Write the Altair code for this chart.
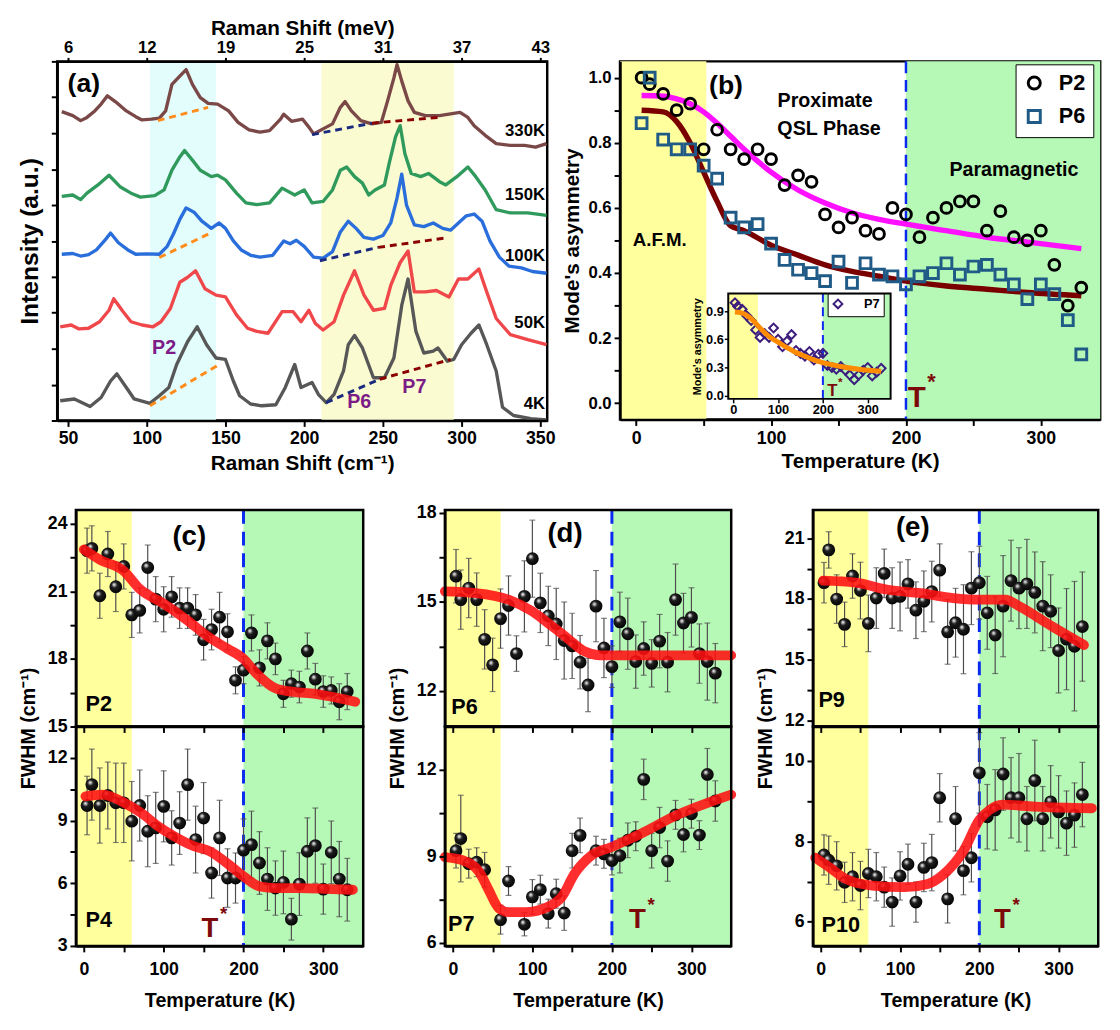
import altair as alt
import pandas as pd

FONT = "Liberation Sans"
YELLOW = "#ffff9e"
GREEN = "#b6f8b6"
DASH_BLUE = "#0a2af0"
TSTAR_RED = "#7d0a0a"

# ======================= (a) Raman spectra =======================
spec_temps = ["330K", "150K", "100K", "50K", "4K"]
spec_colors = ["#7b4848", "#2f9a5c", "#2a6edb", "#f0474a", "#575757"]

x_330 = [46, 53, 58, 62, 67, 71, 75, 80, 87, 93, 97, 103, 108, 112, 116, 121, 125, 129, 134, 139,
         145, 152, 158, 165, 172, 178, 185, 187, 192, 199, 203, 206, 212, 218, 223, 226, 230, 236, 243, 249,
         253, 257, 259, 262, 266, 270, 277, 286, 292, 299, 304, 308, 315, 322, 331, 340, 347, 354]
y_330 = [8.60, 8.49, 8.35, 8.44, 8.62, 8.81, 9.04, 8.88, 8.62, 8.46, 8.37, 8.39, 8.42, 8.62, 9.36, 9.59, 9.77, 9.36, 8.99, 8.83,
         8.81, 8.62, 8.30, 8.09, 8.03, 8.07, 8.39, 8.53, 8.33, 8.39, 8.17, 7.98, 8.12, 8.26, 8.72, 8.88, 8.62, 8.35, 8.26, 8.30,
         8.90, 9.54, 9.91, 9.45, 8.90, 8.58, 8.49, 8.49, 8.53, 8.58, 8.44, 8.21, 7.94, 7.71, 7.66, 7.66, 7.61, 7.71]

x_150 = [46, 53, 58, 62, 69, 76, 83, 90, 96, 105, 111, 116, 121, 124, 129, 134, 141, 145, 150, 157,
         163, 170, 178, 186, 194, 200, 205, 212, 218, 223, 227, 232, 237, 241, 245, 251, 254, 258, 261, 264,
         268, 274, 279, 286, 290, 297, 304, 309, 315, 322, 331, 342, 354]
y_150 = [6.24, 6.28, 6.15, 6.33, 6.56, 6.83, 6.51, 6.33, 6.22, 6.26, 6.42, 6.97, 7.34, 7.52, 7.25, 6.97, 6.79, 6.83, 6.70, 6.33,
         6.06, 6.01, 6.06, 6.47, 6.28, 6.42, 6.06, 6.10, 6.42, 6.97, 7.06, 6.79, 6.61, 6.28, 6.42, 6.56, 7.16, 7.89, 8.21, 7.43,
         6.88, 6.79, 6.88, 6.65, 6.56, 6.79, 7.06, 6.79, 6.42, 5.87, 5.78, 5.78, 5.71]

x_100 = [46, 53, 58, 63, 68, 74, 77, 82, 88, 93, 100, 108, 113, 117, 121, 125, 130, 135, 141, 146,
         150, 155, 160, 166, 172, 180, 187, 191, 195, 200, 206, 212, 218, 223, 228, 233, 238, 244, 250, 255,
         259, 262, 265, 270, 276, 282, 288, 293, 298, 303, 308, 313, 318, 324, 330, 338, 345, 354]
y_100 = [4.63, 4.65, 4.58, 4.62, 4.75, 5.05, 5.22, 4.95, 4.75, 4.63, 4.64, 4.63, 4.85, 5.20, 5.60, 5.92, 5.80, 5.55, 5.35, 5.50,
         5.35, 5.00, 4.75, 4.60, 4.55, 4.60, 5.00, 4.92, 5.02, 4.85, 4.55, 4.52, 4.70, 5.25, 5.55, 5.35, 5.10, 5.05, 5.15, 5.50,
         6.20, 6.86, 6.00, 5.45, 5.40, 5.50, 5.35, 5.30, 5.50, 5.70, 5.75, 5.55, 5.00, 4.55, 4.30, 4.25, 4.15, 4.10]

x_50 = [45, 52, 57, 63, 70, 76, 79, 85, 90, 97, 104, 109, 115, 121, 126, 131, 137, 144, 150, 157,
        164, 170, 177, 186, 193, 198, 203, 207, 212, 219, 225, 232, 238, 244, 251, 255, 261, 266, 270, 277,
        284, 292, 298, 304, 311, 316, 322, 331, 342, 354]
y_50 = [2.61, 2.66, 2.55, 2.57, 2.75, 3.07, 3.39, 3.03, 2.75, 2.66, 2.61, 2.75, 3.12, 3.85, 3.99, 4.17, 3.67, 3.49, 3.44, 2.94,
        2.57, 2.48, 2.43, 3.03, 3.03, 2.75, 3.07, 2.71, 2.52, 2.75, 3.49, 4.17, 3.49, 3.07, 3.12, 3.76, 4.40, 4.72, 3.58, 3.58,
        3.62, 3.44, 3.94, 3.94, 4.22, 3.58, 2.84, 2.39, 2.25, 2.11]

x_4 = [45, 54, 64, 71, 77, 81, 87, 92, 102, 108, 114, 119, 126, 132, 138, 144, 150, 155, 159, 166,
       173, 182, 188, 194, 198, 205, 209, 214, 219, 225, 228, 232, 237, 244, 251, 257, 262, 266, 271, 276,
       282, 285, 291, 295, 300, 306, 311, 316, 322, 326, 333, 344, 354]
y_4 = [0.55, 0.60, 0.39, 0.64, 1.10, 1.30, 0.92, 0.60, 0.48, 0.69, 0.92, 1.56, 2.20, 2.61, 2.11, 1.74, 1.70, 1.10, 0.69, 0.46,
       0.41, 0.44, 0.92, 1.56, 0.92, 1.06, 0.73, 0.50, 0.73, 1.38, 2.11, 2.37, 2.02, 1.19, 1.19, 1.74, 3.21, 3.94, 2.48, 1.88,
       1.93, 2.02, 1.65, 1.70, 2.11, 2.43, 2.66, 2.11, 1.38, 0.37, 0.14, 0.05, 0.02]

spec_x = [x_330, x_150, x_100, x_50, x_4]
spec_y = [y_330, y_150, y_100, y_50, y_4]

base_x0 = [102, 214, 248, 108, 210, 247, 107, 205, 243]
base_y0 = [0.41, 0.50, 1.15, 4.54, 4.45, 4.82, 8.35, 7.96, 8.28]
base_x1 = [146, 248, 293, 141, 247, 291, 139, 243, 286]
base_y1 = [1.56, 1.15, 1.70, 5.23, 4.82, 5.09, 8.72, 8.28, 8.44]
base_col = ["#ff8c1a", "#1a2a80", "#8b0000"] * 3

band_a_x0 = [102, 211]
band_a_x1 = [144, 295]
band_a_col = ["#e3fcfc", "#fafbd0"]

temp_lab_y = [8.07, 6.28, 4.59, 2.71, 0.46]
peak_lab = ["P2", "P6", "P7"]
peak_x = [111, 235, 270]
peak_y = [2.02, 0.50, 0.92]

# ======================= (b) Mode's asymmetry =======================
bT = [4, 10, 20, 30, 40, 50, 60, 70, 80, 90, 100, 110, 120, 130, 140, 150, 160, 170, 180, 190,
      200, 210, 220, 230, 240, 250, 260, 270, 280, 290, 300, 310, 320, 330]
asym_p2 = [1.00, 0.98, 0.95, 0.90, 0.92, 0.78, 0.84, 0.78, 0.75, 0.78, 0.75, 0.67, 0.70, 0.68, 0.58, 0.54, 0.57, 0.53, 0.52, 0.60,
           0.58, 0.51, 0.57, 0.60, 0.62, 0.62, 0.53, 0.59, 0.51, 0.50, 0.53, 0.425, 0.30, 0.355]
asym_p6 = [0.86, 1.00, 0.81, 0.78, 0.78, 0.73, 0.69, 0.57, 0.54, 0.55, 0.49, 0.44, 0.41, 0.40, 0.375, 0.435, 0.37, 0.43, 0.395, 0.39,
           0.365, 0.39, 0.40, 0.43, 0.395, 0.42, 0.425, 0.395, 0.365, 0.32, 0.365, 0.335, 0.255, 0.15]
fit_bT = [4, 20, 30, 40, 50, 60, 70, 80, 100, 120, 140, 160, 180, 200, 230, 260, 290, 330]
fit_p2 = [0.945, 0.943, 0.935, 0.92, 0.895, 0.86, 0.82, 0.78, 0.71, 0.655, 0.615, 0.585, 0.565, 0.55, 0.53, 0.51, 0.495, 0.475]
fit_p6 = [0.90, 0.895, 0.865, 0.80, 0.71, 0.62, 0.545, 0.53, 0.485, 0.455, 0.425, 0.405, 0.39, 0.375, 0.36, 0.35, 0.34, 0.33]

asym_p7 = [0.99, 0.95, 0.92, 0.85, 0.80, 0.70, 0.62, 0.66, 0.62, 0.72, 0.60, 0.52, 0.58, 0.65, 0.48, 0.45, 0.42, 0.47, 0.38, 0.44,
           0.45, 0.32, 0.30, 0.28, 0.31, 0.27, 0.22, 0.17, 0.22, 0.27, 0.30, 0.21, 0.25, 0.29]
fit_p7T = [4, 20, 40, 60, 80, 100, 120, 140, 160, 180, 200, 240, 280, 330]
fit_p7 = [0.89, 0.88, 0.82, 0.72, 0.63, 0.57, 0.51, 0.46, 0.42, 0.38, 0.35, 0.31, 0.28, 0.26]

# ======================= (c)(d)(e) FWHM =======================
fT = [4, 10, 20, 30, 40, 50, 60, 70, 80, 90, 100, 110, 120, 130, 140, 150, 160, 170, 180, 190,
      200, 210, 220, 230, 240, 250, 260, 270, 280, 290, 300, 310, 320, 330]
p2w = [22.8, 22.9, 20.8, 22.65, 21.2, 22.1, 19.95, 20.15, 22.05, 20.65, 20.2, 20.75, 20.25, 20.25, 19.95, 18.85, 19.3, 19.85, 19.2, 17.05,
       17.5, 19.15, 17.6, 18.8, 18.0, 16.45, 16.9, 16.75, 18.35, 17.1, 16.55, 16.6, 16.1, 16.55]
p2e = [1.0, 1.0, 1.0, 1.0, 1.1, 1.0, 1.0, 1.0, 1.0, 1.0, 1.0, 0.9, 0.9, 0.9, 0.9, 0.9, 0.9, 1.1, 0.8, 0.6,
       0.6, 0.8, 0.8, 0.8, 0.7, 0.6, 0.6, 0.7, 0.8, 0.7, 0.7, 0.6, 0.8, 0.8]
p4w = [9.72, 10.72, 9.72, 10.2, 9.85, 9.85, 8.97, 9.72, 8.49, 8.65, 9.68, 8.17, 8.88, 10.72, 8.09, 9.12, 6.49, 8.17, 6.25, 6.25,
       7.58, 7.85, 6.97, 6.2, 5.77, 6.04, 4.28, 5.96, 7.53, 7.8, 5.72, 7.48, 6.2, 5.69]
p4e = [1.4, 1.7, 1.8, 1.6, 1.9, 1.9, 1.9, 1.7, 1.7, 1.7, 1.7, 1.3, 1.5, 1.7, 1.6, 1.7, 1.2, 1.8, 1.4, 1.2,
       1.5, 1.6, 1.5, 1.5, 1.3, 1.5, 1.0, 1.5, 1.6, 1.8, 1.2, 1.5, 1.8, 1.5]
p6w = [15.87, 15.08, 15.47, 15.08, 13.74, 12.88, 14.44, 14.88, 13.26, 15.19, 16.46, 14.97, 14.53, 14.26, 13.7, 13.52, 12.97, 12.2, 14.86, 13.45,
       12.82, 14.33, 13.93, 12.99, 13.43, 12.93, 13.68, 12.97, 15.08, 14.29, 14.48, 13.26, 12.99, 12.6]
p6e = [0.9, 1.0, 1.0, 0.9, 1.0, 0.9, 1.0, 1.0, 0.6, 1.2, 1.3, 1.0, 1.0, 1.2, 1.3, 1.1, 0.9, 0.9, 1.2, 1.0,
       0.7, 1.0, 1.2, 0.9, 0.9, 0.8, 0.9, 1.0, 1.2, 1.0, 1.0, 1.0, 1.3, 1.0]
p7T = [4, 10, 20, 30, 40, 60, 70, 90, 100, 110, 120, 130, 140, 150, 160, 180, 190, 200, 210, 220,
       230, 240, 250, 260, 270, 280, 290, 300, 310, 320, 330]
p7w = [9.2, 9.62, 8.75, 8.8, 8.54, 6.81, 8.15, 6.65, 7.6, 7.85, 7.02, 7.71, 7.04, 9.2, 9.73, 9.2, 9.09, 8.86, 9.03, 9.56,
       9.7, 11.67, 9.2, 10.0, 8.84, 10.44, 9.76, 10.48, 9.74, 11.84, 10.92]
p7e = [0.6, 1.5, 0.5, 0.5, 0.6, 0.5, 0.5, 0.4, 0.6, 0.5, 0.5, 0.5, 0.6, 0.6, 0.6, 0.5, 0.5, 0.5, 0.6, 0.6,
       0.5, 0.7, 0.6, 0.7, 0.7, 0.5, 0.6, 0.5, 0.5, 0.9, 0.7]
p9w = [18.81, 20.43, 18.0, 16.75, 19.14, 18.42, 16.8, 18.05, 19.27, 18.05, 18.13, 18.75, 17.45, 17.89, 18.37, 19.43, 16.38, 16.83, 16.51, 18.54,
       18.81, 17.32, 16.22, 17.65, 18.91, 18.54, 18.75, 18.33, 17.65, 17.4, 15.46, 16.02, 15.67, 16.64]
p9e = [1.0, 0.9, 1.2, 1.1, 1.1, 1.4, 1.4, 1.5, 1.2, 1.5, 1.7, 1.2, 1.4, 1.5, 1.5, 1.3, 1.6, 1.7, 2.2, 1.8,
       1.8, 1.8, 1.9, 2.5, 2.0, 2.0, 2.2, 2.0, 2.2, 1.8, 2.1, 2.5, 3.2, 2.7]
p10w = [7.66, 7.53, 7.39, 6.98, 7.12, 6.9, 7.2, 7.12, 6.86, 6.49, 7.14, 7.43, 6.49, 7.35, 7.47, 9.08, 6.57, 8.56, 7.27, 7.59,
        9.7, 8.61, 8.78, 9.67, 9.08, 9.08, 8.56, 9.51, 8.56, 8.98, 8.73, 8.45, 8.65, 9.16]
p10e = [0.5, 0.6, 0.6, 0.5, 0.6, 0.6, 0.6, 0.6, 0.5, 0.6, 0.6, 0.5, 0.5, 0.6, 0.7, 0.6, 0.6, 0.8, 0.6, 0.6,
        1.0, 0.8, 1.0, 0.9, 1.0, 1.1, 0.8, 1.0, 0.8, 0.9, 0.9, 0.8, 0.8, 0.8]

fit2T = [0, 20, 50, 70, 100, 130, 155, 180, 200, 215, 240, 260, 290, 340]
fit2 = [22.85, 22.4, 21.9, 21.1, 20.45, 19.7, 19.0, 18.45, 18.0, 17.4, 16.7, 16.55, 16.45, 16.1]
fit4T = [2, 23, 51, 72, 93, 113, 138, 158, 179, 200, 220, 241, 270, 311, 337]
fit4 = [10.16, 10.24, 9.84, 9.36, 8.73, 8.25, 7.77, 7.53, 6.97, 6.33, 5.85, 5.77, 5.77, 5.72, 5.69]
fit6T = [-10, 29, 70, 99, 124, 145, 165, 186, 215, 350]
fit6 = [15.36, 15.3, 15.08, 14.7, 14.2, 13.76, 13.34, 13.2, 13.2, 13.2]
fit7T = [-10, 12, 33, 45, 58, 70, 91, 120, 137, 153, 174, 199, 236, 277, 350]
fit7 = [8.98, 8.87, 8.47, 7.84, 7.2, 7.07, 7.07, 7.26, 7.6, 8.4, 9.03, 9.32, 9.78, 10.37, 11.14]
fit9T = [3, 44, 85, 126, 167, 200, 233, 250, 291, 332]
fit9 = [18.91, 18.81, 18.46, 18.29, 18.05, 17.97, 17.97, 17.65, 16.67, 15.73]
fit10T = [-7, 11, 32, 65, 106, 135, 155, 180, 200, 213, 229, 270, 342]
fit10 = [7.59, 7.35, 7.06, 6.9, 6.86, 6.94, 7.18, 7.76, 8.53, 8.78, 8.91, 8.86, 8.82]

FW_X = [-10, 350]
FW_YELLOW = [-10, 60]
FW_GREEN = [200, 350]
T_STAR = 200


def ax(**kw):
    base = dict(labelFont=FONT, labelFontWeight="bold", labelColor="black",
                titleFont=FONT, titleFontWeight="bold", titleColor="black",
                domainColor="black", domainWidth=2.5, tickColor="black",
                tickWidth=2, grid=False, labelFlush=False, zindex=2)
    base.update(kw)
    return alt.Axis(**base)


def tmark(size, color="black", align="center", **kw):
    return dict(font=FONT, fontWeight="bold", fontSize=size, color=color,
                align=align, baseline="middle", **kw)


# ---------------- Panel (a) ----------------
A_W, A_H = 498, 365
xa = alt.Scale(domain=[43.1, 354.4], nice=False, zero=False)
ya = alt.Scale(domain=[0, 10], nice=False, zero=False)
xa_ticks = [50, 100, 150, 200, 250, 300, 350]
XA = alt.X("x:Q", scale=xa, axis=ax(values=xa_ticks, labelExpr="format(datum.value, 'd')",
                                    title="Raman Shift (cm⁻¹)", labelFontSize=18, titleFontSize=21,
                                    tickSize=6, labelPadding=3, titlePadding=6))
YA = alt.Y("y:Q", scale=ya, axis=ax(values=list(range(11)), labels=False, title="Intensity (a.u.)",
                                    titleFontSize=25, tickSize=6, titlePadding=8))

layers_a = [alt.Chart(pd.DataFrame({"x": band_a_x0, "x2": band_a_x1, "c": band_a_col}))
            .mark_rect().encode(x=XA, x2="x2:Q", color=alt.Color("c:N", scale=None))]
for col, xs_, ys_ in zip(spec_colors, spec_x, spec_y):
    layers_a.append(alt.Chart(pd.DataFrame({"x": xs_, "y": ys_}))
                    .mark_line(color=col, strokeWidth=3.4, strokeJoin="round").encode(x=XA, y=YA))
layers_a.append(alt.Chart(pd.DataFrame({"x": base_x0, "y": base_y0, "x2": base_x1, "y2": base_y1, "c": base_col}))
                .mark_rule(strokeDash=[7, 5], strokeWidth=3)
                .encode(x=XA, y=YA, x2="x2:Q", y2="y2:Q", color=alt.Color("c:N", scale=None)))
layers_a.append(alt.Chart(pd.DataFrame({"x": [353] * 5, "y": temp_lab_y, "t": spec_temps}))
                .mark_text(**tmark(17, align="right")).encode(x=XA, y=YA, text="t:N"))
layers_a.append(alt.Chart(pd.DataFrame({"x": peak_x, "y": peak_y, "t": peak_lab}))
                .mark_text(**tmark(20, color="#7d1b87")).encode(x=XA, y=YA, text="t:N"))
layers_a.append(alt.Chart(pd.DataFrame({"x": [60], "y": [9.36], "t": ["(a)"]}))
                .mark_text(**tmark(27)).encode(x=XA, y=YA, text="t:N"))

top_axis_a = alt.Chart(pd.DataFrame({"x": xa_ticks})).mark_tick(opacity=0).encode(
    x=alt.X("x:Q", scale=xa, axis=ax(orient="top", values=xa_ticks,
                                     labelExpr="format(round(datum.value / 8.0655), 'd')",
                                     title="Raman Shift (meV)", labelFontSize=17, titleFontSize=21,
                                     tickSize=4, labelPadding=1, titlePadding=0)))
panel_a = alt.layer(alt.layer(*layers_a), top_axis_a).resolve_axis(x="independent").properties(width=A_W, height=A_H)

# ---------------- Panel (b) ----------------
B_W, B_H = 488, 364
xb = alt.Scale(domain=[-12, 344], nice=False, zero=False)
yb = alt.Scale(domain=[-0.05, 1.05], nice=False, zero=False)
XB = alt.X("x:Q", scale=xb, axis=ax(values=[0, 50, 100, 150, 200, 250, 300],
                                    labelExpr="datum.value % 100 == 0 ? format(datum.value, 'd') : ''",
                                    title="Temperature (K)", labelFontSize=18, titleFontSize=21,
                                    tickSize=6, labelPadding=4, titlePadding=4))
YB = alt.Y("y:Q", scale=yb, axis=ax(values=[round(i * 0.1, 1) for i in range(11)],
                                    labelExpr="round(datum.value * 10) % 2 == 0 ? format(datum.value, '.1f') : ''",
                                    title="Mode's asymmetry", labelFontSize=17, titleFontSize=21,
                                    tickSize=6, labelPadding=3, titlePadding=6))

leg_b = dict(orient="none", legendX=402, legendY=3, title=None, strokeColor="black", fillColor="white",
             padding=8, labelFont=FONT, labelFontSize=22, labelFontWeight="bold", labelColor="black",
             symbolSize=150, symbolStrokeWidth=3, rowPadding=8, labelOffset=14)

layers_b = [
    alt.Chart(pd.DataFrame({"x": [-12], "x2": [52]})).mark_rect(color=YELLOW).encode(x=XB, x2="x2:Q"),
    alt.Chart(pd.DataFrame({"x": [200], "x2": [344]})).mark_rect(color=GREEN).encode(x=XB, x2="x2:Q"),
    alt.Chart(pd.DataFrame({"x": [T_STAR]})).mark_rule(color=DASH_BLUE, strokeDash=[12, 7], strokeWidth=2.5).encode(x=XB),
    alt.Chart(pd.DataFrame({"x": fit_bT, "y": fit_p2})).mark_line(color="#ff10ff", strokeWidth=5.5, interpolate="monotone").encode(x=XB, y=YB),
    alt.Chart(pd.DataFrame({"x": fit_bT, "y": fit_p6})).mark_line(color="#7a0000", strokeWidth=5.5, interpolate="monotone").encode(x=XB, y=YB),
    alt.Chart(pd.DataFrame({"x": bT + bT, "y": asym_p2 + asym_p6, "series": ["P2"] * len(bT) + ["P6"] * len(bT)}))
    .mark_point(filled=False, strokeWidth=3, size=120, opacity=1)
    .encode(x=XB, y=YB,
            shape=alt.Shape("series:N", scale=alt.Scale(domain=["P2", "P6"], range=["circle", "square"]), legend=alt.Legend(**leg_b)),
            color=alt.Color("series:N", scale=alt.Scale(domain=["P2", "P6"], range=["black", "#1f5b86"]), legend=alt.Legend(**leg_b))),
    alt.Chart(pd.DataFrame({"x": [54], "y": [0.975], "t": ["(b)"]})).mark_text(**tmark(27, align="left")).encode(x=XB, y=YB, text="t:N"),
    alt.Chart(pd.DataFrame({"x": [140, 143, 280], "y": [0.927, 0.842, 0.715], "t": ["Proximate", "QSL Phase", "Paramagnetic"]}))
    .mark_text(**tmark(20)).encode(x=XB, y=YB, text="t:N"),
    alt.Chart(pd.DataFrame({"x": [17.5], "y": [0.50], "t": ["A.F.M."]})).mark_text(**tmark(19)).encode(x=XB, y=YB, text="t:N"),
    alt.Chart(pd.DataFrame({"x": [208], "y": [0.015], "t": ["T"]})).mark_text(**tmark(30, color=TSTAR_RED)).encode(x=XB, y=YB, text="t:N"),
    alt.Chart(pd.DataFrame({"x": [208], "y": [0.015], "t": ["*"]})).mark_text(**tmark(22, color=TSTAR_RED, dx=15, dy=-17)).encode(x=XB, y=YB, text="t:N"),
]

INSET_X = [-11, 351]
INSET_Y = [-0.035, 1.087]
xi = alt.Scale(domain=INSET_X, range=[110, 275], nice=False, zero=False)
yi = alt.Scale(domain=INSET_Y, range=[343, 236], nice=False, zero=False)
XI = alt.X("x:Q", scale=xi, axis=ax(orient="bottom", offset=-21, values=[0, 100, 200, 300],
                                    labelExpr="format(datum.value, 'd')", labelFontSize=13, tickSize=4,
                                    tickWidth=1.5, domain=False, labelPadding=1, title=None))
YI = alt.Y("y:Q", scale=yi, axis=ax(orient="left", offset=-110, values=[0, 0.3, 0.6, 0.9],
                                    labelExpr="format(datum.value, '.1f')", labelFontSize=13, tickSize=4,
                                    tickWidth=1.5, domain=False, labelPadding=1, title="Mode's asymmetry",
                                    titleFontSize=11, titlePadding=3))
leg_i = dict(orient="none", legendX=211, legendY=236, title=None, strokeColor="black", fillColor="white",
             padding=4, labelFont=FONT, labelFontSize=13, labelFontWeight="bold", labelColor="black",
             symbolSize=80, symbolStrokeWidth=2, labelOffset=20)
frame_df = pd.DataFrame({"x": [INSET_X[0]], "x2": [INSET_X[1]], "y": [INSET_Y[0]], "y2": [INSET_Y[1]]})
layers_i = [
    alt.Chart(frame_df).mark_rect(color="white").encode(x=XI, x2="x2:Q", y=YI, y2="y2:Q"),
    alt.Chart(pd.DataFrame({"x": [INSET_X[0]], "x2": [55], "y": [INSET_Y[0]], "y2": [INSET_Y[1]]}))
    .mark_rect(color=YELLOW).encode(x=XI, x2="x2:Q", y=YI, y2="y2:Q"),
    alt.Chart(pd.DataFrame({"x": [T_STAR], "x2": [INSET_X[1]], "y": [INSET_Y[0]], "y2": [INSET_Y[1]]}))
    .mark_rect(color=GREEN).encode(x=XI, x2="x2:Q", y=YI, y2="y2:Q"),
    alt.Chart(pd.DataFrame({"x": [T_STAR], "y": [INSET_Y[0]], "y2": [INSET_Y[1]]}))
    .mark_rule(color=DASH_BLUE, strokeDash=[9, 5], strokeWidth=2).encode(x=XI, y=YI, y2="y2:Q"),
    alt.Chart(pd.DataFrame({"x": bT, "y": asym_p7, "series": ["P7"] * len(bT)}))
    .mark_point(filled=False, strokeWidth=2, size=80, opacity=1)
    .encode(x=XI, y=YI,
            shape=alt.Shape("series:N", scale=alt.Scale(domain=["P7"], range=["diamond"]), legend=alt.Legend(**leg_i)),
            color=alt.Color("series:N", scale=alt.Scale(domain=["P7"], range=["#3c1d7d"]), legend=alt.Legend(**leg_i))),
    alt.Chart(pd.DataFrame({"x": fit_p7T, "y": fit_p7})).mark_line(color="#ff8c00", strokeWidth=5, interpolate="monotone").encode(x=XI, y=YI),
    alt.Chart(pd.DataFrame({"x": [221], "y": [0.05], "t": ["T"]})).mark_text(**tmark(17, color=TSTAR_RED)).encode(x=XI, y=YI, text="t:N"),
    alt.Chart(pd.DataFrame({"x": [221], "y": [0.05], "t": ["*"]})).mark_text(**tmark(12, color=TSTAR_RED, dx=8, dy=-9)).encode(x=XI, y=YI, text="t:N"),
    alt.Chart(frame_df).mark_rect(fillOpacity=0, stroke="black", strokeWidth=2).encode(x=XI, x2="x2:Q", y=YI, y2="y2:Q"),
]

panel_b = (alt.layer(alt.layer(*layers_b), alt.layer(*layers_i))
           .resolve_scale(x="independent", y="independent", shape="independent", color="independent")
           .resolve_axis(x="independent", y="independent")
           .resolve_legend(shape="independent", color="independent")
           .properties(width=B_W, height=B_H))

# ---------------- FWHM columns (two stacked sub-panels in one view) ----------------
SPHERE = {"gradient": "radial", "x1": 0.36, "y1": 0.32, "r1": 0.0, "x2": 0.45, "y2": 0.45, "r2": 0.62,
          "stops": [{"offset": 0.0, "color": "#ffffff"}, {"offset": 0.14, "color": "#b5b5b5"},
                    {"offset": 0.36, "color": "#1e1e1e"}, {"offset": 1.0, "color": "#000000"}]}
H_TOP, H_BOT = 220, 223
X_TICKS = [0, 50, 100, 150, 200, 250, 300]


def sub_group(X, spec, yrange, shift, title_xy=None, letter=None, tstar=None, backdrop=False):
    T, v, e, fitT, fitv, ydom, yvals, ymajor, plabel, pxy = spec
    ys = alt.Scale(domain=ydom, range=yrange, nice=False, zero=False)
    major = ",".join(str(m) for m in ymajor)
    ykw = dict(orient="left", offset=-shift, values=yvals,
               labelExpr=f"indexof([{major}], datum.value) >= 0 ? format(datum.value, 'd') : ''",
               tickSize=6, labelFontSize=18, labelPadding=3)
    if title_xy is not None:
        ykw.update(title="FWHM (cm⁻¹)", titleFontSize=20, titleX=title_xy[0], titleY=title_xy[1])
    else:
        ykw.update(title=None)
    yaxis = ax(**ykw)
    Y = alt.Y("y:Q", scale=ys, axis=yaxis)
    df = pd.DataFrame({"x": T, "y": v, "lo": [a - b for a, b in zip(v, e)], "hi": [a + b for a, b in zip(v, e)]})
    L = []
    if backdrop:
        L += [
            alt.Chart(pd.DataFrame({"x": [FW_YELLOW[0]], "x2": [FW_YELLOW[1]]})).mark_rect(color=YELLOW).encode(x=X, x2="x2:Q"),
            alt.Chart(pd.DataFrame({"x": [FW_GREEN[0]], "x2": [FW_GREEN[1]]})).mark_rect(color=GREEN).encode(x=X, x2="x2:Q"),
            alt.Chart(pd.DataFrame({"x": [T_STAR]})).mark_rule(color=DASH_BLUE, strokeDash=[14, 8], strokeWidth=3).encode(x=X),
        ]
    L += [
        alt.Chart(df).mark_rule(color="#4d4d4d", strokeWidth=1.2).encode(x=X, y=alt.Y("lo:Q", scale=ys, axis=yaxis), y2="hi:Q"),
        alt.Chart(df).mark_tick(orient="horizontal", size=6, thickness=1.2, color="#4d4d4d").encode(x=X, y=alt.Y("lo:Q", scale=ys, axis=yaxis)),
        alt.Chart(df).mark_tick(orient="horizontal", size=6, thickness=1.2, color="#4d4d4d").encode(x=X, y=alt.Y("hi:Q", scale=ys, axis=yaxis)),
        alt.Chart(df).mark_circle(size=170, fill=SPHERE, opacity=1).encode(x=X, y=Y),
        alt.Chart(pd.DataFrame({"x": fitT, "y": fitv})).mark_line(color="#ff1010", strokeWidth=10, opacity=0.88,
                                                                  interpolate="monotone", strokeCap="round").encode(x=X, y=Y),
        alt.Chart(pd.DataFrame({"x": [pxy[0]], "y": [pxy[1]], "t": [plabel]})).mark_text(**tmark(22, align="left")).encode(x=X, y=Y, text="t:N"),
    ]
    if letter is not None:
        L.append(alt.Chart(pd.DataFrame({"x": [letter[1]], "y": [letter[2]], "t": [letter[0]]})).mark_text(**tmark(28)).encode(x=X, y=Y, text="t:N"))
    if tstar is not None:
        L.append(alt.Chart(pd.DataFrame({"x": [tstar[0]], "y": [tstar[1]], "t": ["T"]})).mark_text(**tmark(28, color=TSTAR_RED)).encode(x=X, y=Y, text="t:N"))
        L.append(alt.Chart(pd.DataFrame({"x": [tstar[0]], "y": [tstar[1]], "t": ["*"]})).mark_text(**tmark(19, color=TSTAR_RED, dx=14, dy=-15)).encode(x=X, y=Y, text="t:N"))
    # sub-panel frame along the scale domains
    L.append(alt.Chart(pd.DataFrame({"x": [FW_X[0]], "x2": [FW_X[1]], "y": [ydom[0]], "y2": [ydom[1]]}))
             .mark_rect(fillOpacity=0, stroke="black", strokeWidth=2.5).encode(x=X, x2="x2:Q", y=Y, y2="y2:Q"))
    return alt.layer(*L)


def fw_col(w, top_spec, bot_spec, letter, tstar, title_x, shift=0):
    xs = alt.Scale(domain=FW_X, range=[shift, shift + w], nice=False, zero=False)
    X_top = alt.X("x:Q", scale=xs, axis=ax(orient="bottom", offset=-H_BOT, values=X_TICKS, labels=False,
                                           title=None, tickSize=6))
    X_bot = alt.X("x:Q", scale=xs, axis=ax(orient="bottom", values=X_TICKS,
                                           labelExpr="datum.value % 100 == 0 ? format(datum.value, 'd') : ''",
                                           title="Temperature (K)", labelFontSize=18, titleFontSize=20,
                                           tickSize=6, labelPadding=9, titlePadding=13))
    g_top = sub_group(X_top, top_spec, [H_TOP, 0], shift, title_xy=(title_x, (H_TOP + H_BOT) / 2), letter=letter, backdrop=True)
    g_bot = sub_group(X_bot, bot_spec, [H_TOP + H_BOT, H_TOP], shift, tstar=tstar)
    return (alt.layer(g_top, g_bot)
            .resolve_scale(y="independent")
            .resolve_axis(x="independent", y="independent")
            .properties(width=w + shift, height=H_TOP + H_BOT, view=alt.ViewBackground(stroke=None)))


col_c = fw_col(292,
               (fT, p2w, p2e, fit2T, fit2, [15, 24.6], [15, 16.5, 18, 19.5, 21, 22.5, 24], [15, 18, 21, 24], "P2", (2, 16.0)),
               (fT, p4w, p4e, fit4T, fit4, [3, 13.5], [3, 4.5, 6, 7.5, 9, 10.5, 12], [3, 6, 9, 12], "P4", (2, 4.25)),
               ("(c)", 132, 23.4), (158, 3.8), -38, shift=19)
col_d = fw_col(291,
               (fT, p6w, p6e, fit6T, fit6, [10.8, 18.1], [12, 13.5, 15, 16.5, 18], [12, 15, 18], "P6", (-2, 11.45)),
               (p7T, p7w, p7e, fit7T, fit7, [5.9, 13.5], [6, 7.5, 9, 10.5, 12], [6, 9, 12], "P7", (-6, 6.67)),
               ("(d)", 141, 17.28), (232, 6.8), -38)
col_e = fw_col(290,
               (fT, p9w, p9e, fit9T, fit9, [11.7, 22.4], [12, 13.5, 15, 16.5, 18, 19.5, 21], [12, 15, 18, 21], "P9", (-3, 13.03)),
               (fT, p10w, p10e, fit10T, fit10, [5.4, 10.85], [6, 7, 8, 9, 10], [6, 8, 10], "P10", (1, 5.92)),
               ("(e)", 116, 21.5), (229, 6.04), -38)

top_row = alt.hconcat(panel_a, panel_b, spacing=74, bounds="flush")
bottom_row = alt.hconcat(col_c, col_d, col_e, spacing=83, bounds="flush")

chart = (alt.vconcat(top_row, bottom_row, spacing=29)
         .properties(padding={"left": 8, "top": 0, "right": 0, "bottom": 0})
         .configure_view(stroke="black", strokeWidth=2.5))

chart.save("out.html", embed_options={"renderer": "svg", "actions": False})
